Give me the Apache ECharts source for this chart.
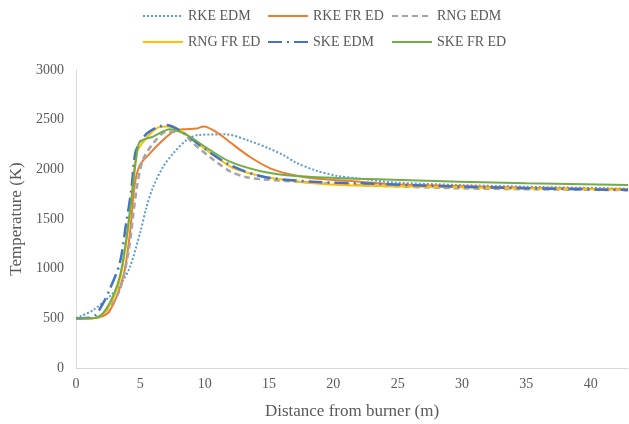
<!DOCTYPE html>
<html>
<head>
<meta charset="utf-8">
<script src="https://cdn.jsdelivr.net/npm/echarts@6/dist/echarts.min.js"></script>
<style>
  html, body { margin: 0; padding: 0; background: #fff; }
  #main { width: 629px; height: 424px; }
</style>
</head>
<body>
<div id="main"></div>
<script>
// series names
const names = ['RKE EDM', 'RKE FR ED', 'RNG EDM', 'RNG FR ED', 'SKE EDM', 'SKE FR ED'];

// distance (m) / temperature (K) for each model
const rkeEdmX = [0, 0.3, 1.34, 2.6, 3.5, 4.2, 4.97, 5.49, 6.0, 6.78, 7.56, 8.6, 9.5, 11.6, 13.5, 15.1, 16.1, 17.1, 18.7, 20.3, 21.8, 24.6, 29.8, 35, 42.9];
const rkeEdmT = [500, 517, 584, 718, 850, 1020, 1356, 1624, 1825, 2027, 2161, 2295, 2346, 2352, 2285, 2205, 2144, 2067, 1986, 1933, 1910, 1869, 1842, 1825, 1805];

const rkeFrX = [0, 1, 1.8, 2.6, 3.67, 4.19, 4.57, 4.97, 5.75, 6.5, 7.56, 8.3, 9.35, 9.9, 11.06, 12.0, 13.5, 15.1, 16.6, 18.4, 22.1, 24.6, 29.8, 35, 42.9];
const rkeFrT = [500, 500, 510, 570, 919, 1356, 1850, 2044, 2161, 2262, 2379, 2403, 2410, 2430, 2363, 2270, 2127, 2010, 1950, 1910, 1876, 1850, 1832, 1815, 1800];

const rngEdmX = [0, 1, 1.8, 2.5, 3.4, 4.1, 4.7, 5.2, 6.0, 7.05, 8.1, 9.1, 10.7, 12.0, 13.2, 14.55, 18.4, 22.1, 29.8, 35, 42.9];
const rngEdmT = [500, 500, 520, 600, 785, 1188, 1792, 2094, 2262, 2379, 2379, 2262, 2094, 1978, 1922, 1899, 1866, 1842, 1809, 1800, 1790];

const rngFrX = [0, 1, 1.7, 2.6, 3.4, 3.9, 4.3, 4.7, 5.35, 6.26, 7.0, 8.06, 9.6, 12.0, 13.2, 15.3, 19.4, 24.6, 29.8, 35, 42.9];
const rngFrT = [500, 500, 510, 630, 886, 1256, 1691, 2160, 2295, 2413, 2430, 2396, 2245, 2027, 1970, 1910, 1850, 1830, 1819, 1808, 1795];

const skeEdmX = [0, 1, 1.5, 2.1, 2.6, 3.4, 3.9, 4.3, 4.6, 5.0, 5.7, 7.0, 8.6, 9.6, 12.0, 14.55, 18.4, 22.1, 29.8, 35, 42.9];
const skeEdmT = [500, 505, 530, 650, 785, 1054, 1457, 1792, 2160, 2280, 2380, 2446, 2346, 2245, 2042, 1926, 1876, 1859, 1825, 1810, 1792];

const skeFrX = [0, 1, 1.7, 2.6, 3.4, 3.9, 4.3, 4.7, 4.97, 6.0, 7.3, 8.6, 10.4, 12.0, 14.55, 17.1, 22.1, 29.8, 35, 42.9];
const skeFrT = [500, 500, 510, 650, 919, 1289, 1691, 2127, 2278, 2330, 2403, 2346, 2195, 2075, 1976, 1933, 1905, 1876, 1860, 1842];

const colors = ['#5B9BD5', '#ED7D31', '#A5A5A5', '#FFC000', '#4472C4', '#70AD47'];
const lineTypes = ['dotted', 'solid', [6, 4], 'solid', [14, 5, 2, 5], 'solid'];
const lineWidths = [2, 2, 2.5, 2, 2.5, 2];
const xs = [rkeEdmX, rkeFrX, rngEdmX, rngFrX, skeEdmX, skeFrX];
const ts = [rkeEdmT, rkeFrT, rngEdmT, rngFrT, skeEdmT, skeFrT];

const font = 'Liberation Serif';
const textColor = '#595959';

// legend slots (two rows of three)
const legendLeft = [142, 267, 391];
const legendTop = [9, 35];
const legends = names.map((n, i) => ({
    data: [n],
    left: legendLeft[i % 3],
    top: legendTop[Math.floor(i / 3)],
    padding: 0,
    itemWidth: 40,
    itemHeight: 14,
    itemGap: 0,
    itemStyle: { opacity: 0 },
    textStyle: { fontFamily: font, fontSize: 14, color: textColor }
}));

const chartDom = document.getElementById('main');
const myChart = echarts.init(chartDom);

const option = {
    animation: false,
    color: colors,
    legend: legends,
    grid: { left: 76, right: 1, top: 70, bottom: 56, containLabel: false, outerBoundsMode: 'none' },
    xAxis: {
        type: 'value',
        min: 0,
        max: 42.9,
        interval: 5,
        name: 'Distance from burner (m)',
        nameLocation: 'middle',
        nameGap: 35,
        nameTextStyle: { fontFamily: font, fontSize: 17, color: textColor },
        axisLine: { show: true, lineStyle: { color: '#D9D9D9', width: 1 } },
        axisTick: { show: false },
        splitLine: { show: false },
        axisLabel: { fontFamily: font, fontSize: 14, color: textColor, margin: 9, showMaxLabel: false }
    },
    yAxis: {
        type: 'value',
        min: 0,
        max: 3000,
        interval: 500,
        name: 'Temperature (K)',
        nameLocation: 'middle',
        nameGap: 51,
        nameTextStyle: { fontFamily: font, fontSize: 17, color: textColor },
        axisLine: { show: true, lineStyle: { color: '#D9D9D9', width: 1 } },
        axisTick: { show: false },
        splitLine: { show: false },
        axisLabel: { fontFamily: font, fontSize: 14, color: textColor, margin: 12, formatter: (v) => String(v) }
    },
    series: names.map((n, i) => ({
        name: n,
        type: 'line',
        smooth: 0.3,
        showSymbol: false,
        symbol: 'none',
        data: xs[i].map((x, k) => [x, ts[i][k]]),
        lineStyle: { color: colors[i], width: lineWidths[i], type: lineTypes[i] },
        itemStyle: { color: colors[i] }
    }))
};

option && myChart.setOption(option);
</script>
</body>
</html>
